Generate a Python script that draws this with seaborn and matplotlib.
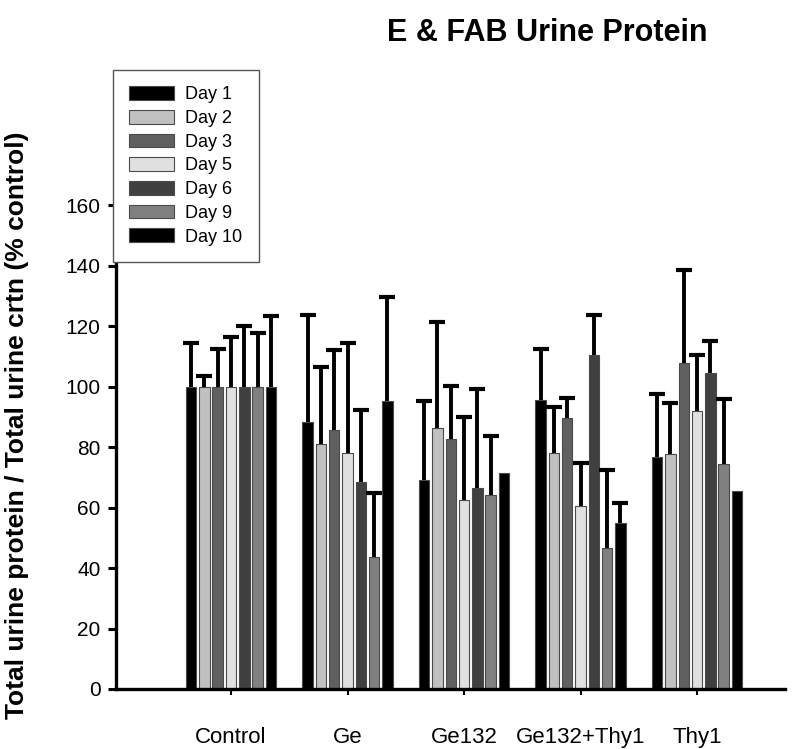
import numpy as np
import pandas as pd
import matplotlib
matplotlib.use("Agg")
import matplotlib.pyplot as plt
import seaborn as sns

groups = ["Control", "Ge", "Ge132", "Ge132+Thy1", "Thy1"]
days = ["Day 1", "Day 2", "Day 3", "Day 5", "Day 6", "Day 9", "Day 10"]

# mean values per day (rows: days, columns: groups)
day1 = [100, 88.2, 69.1, 95.5, 76.6]
day2 = [100, 81.2, 86.2, 78.1, 77.9]
day3 = [100, 85.6, 82.6, 89.5, 107.7]
day5 = [100, 78.1, 62.5, 60.5, 92.0]
day6 = [100, 68.5, 66.6, 110.4, 104.4]
day9 = [100, 43.7, 64.1, 46.5, 74.4]
day10 = [100, 95.2, 71.3, 54.8, 65.6]

# upper error (0 = no error bar drawn)
err1 = [14.5, 35.4, 26.2, 17.1, 20.9]
err2 = [3.6, 25.3, 35.2, 15.2, 16.7]
err3 = [12.4, 26.7, 17.6, 6.8, 30.8]
err5 = [16.4, 36.4, 27.5, 14.4, 18.4]
err6 = [20.1, 23.7, 32.5, 13.2, 10.6]
err9 = [17.8, 21.0, 19.6, 26.1, 21.7]
err10 = [23.4, 34.5, 0, 6.6, 0]

means = [day1, day2, day3, day5, day6, day9, day10]
errs = [err1, err2, err3, err5, err6, err9, err10]

colors = ["#000000", "#c0c0c0", "#606060", "#e0e0e0", "#404040", "#808080", "#000000"]

rows = []
for d, vals in zip(days, means):
    for g, v in zip(groups, vals):
        rows.append({"group": g, "day": d, "value": v})
df = pd.DataFrame(rows)

sns.set_style("white")
plt.rcParams["font.family"] = ["Liberation Sans", "DejaVu Sans"]
plt.rcParams["text.color"] = "black"
plt.rcParams["xtick.color"] = "black"
plt.rcParams["ytick.color"] = "black"

W, H = 804, 749
fig = plt.figure(figsize=(W / 100, H / 100), dpi=100)
ax = fig.add_axes([116 / W, 1 - 689 / H, (785 - 116) / W, (689 - 160) / H])

sns.barplot(data=df, x="group", y="value", hue="day", order=groups, hue_order=days,
            palette=dict(zip(days, colors)), errorbar=None, width=0.8, gap=0.22,
            edgecolor="#4a4a4a", linewidth=0.8, saturation=1, ax=ax, legend=True)

for cont, e in zip(ax.containers, errs):
    xs, ys, es = [], [], []
    for p, ev in zip(cont.patches, e):
        if ev > 0:
            xs.append(p.get_x() + p.get_width() / 2)
            ys.append(p.get_height())
            es.append(ev)
    if xs:
        xs = np.array(xs)
        ys = np.array(ys)
        es = np.array(es)
        ax.vlines(xs, ys, ys + es, colors="black", linewidth=2.8, zorder=3)
        ax.plot(xs, ys + es, linestyle="none", marker="_", markersize=12,
                markeredgewidth=3.0, color="black", zorder=3)

ax.set_ylim(0, 175)
ax.set_xlim(-0.987, 4.755)
ax.set_yticks(range(0, 161, 20))
ax.set_yticklabels([str(v) for v in range(0, 161, 20)], fontsize=15, color="black")
ax.set_xticks(range(len(groups)))
ax.set_xticklabels(groups, fontsize=16, color="black")
ax.tick_params(axis="y", direction="out", length=6, width=2.2, pad=5, left=True, colors="black")
ax.tick_params(axis="x", direction="out", length=4.5, width=1.5, pad=23, bottom=True, colors="black")
ax.set_xlabel("")
ax.set_ylabel("")

for s in ["top", "right"]:
    ax.spines[s].set_visible(False)
for s in ["left", "bottom"]:
    ax.spines[s].set_linewidth(2.4)
    ax.spines[s].set_color("black")

fig.text(17 / W, 1 - 425 / H, "Total urine protein / Total urine crtn (% control)",
         rotation=90, ha="center", va="center", fontsize=19, fontweight="bold", color="black")
fig.text(547 / W, 1 - 33 / H, "E & FAB Urine Protein", ha="center", va="center",
         fontsize=22, fontweight="bold", color="black")

handles, labels = ax.get_legend_handles_labels()
ax.get_legend().remove()
leg = fig.legend(handles, labels, loc="upper left",
                 bbox_to_anchor=(113 / W, 1 - 70 / H), bbox_transform=fig.transFigure,
                 fontsize=13, frameon=True, fancybox=False, framealpha=1,
                 edgecolor="#555555", handlelength=2.5, handleheight=0.8,
                 handletextpad=0.6, labelspacing=0.36, borderpad=0.9, borderaxespad=0,
                 labelcolor="black")
leg.get_frame().set_linewidth(1.0)
leg.set_zorder(10)

fig.savefig("out.png", dpi=100)
